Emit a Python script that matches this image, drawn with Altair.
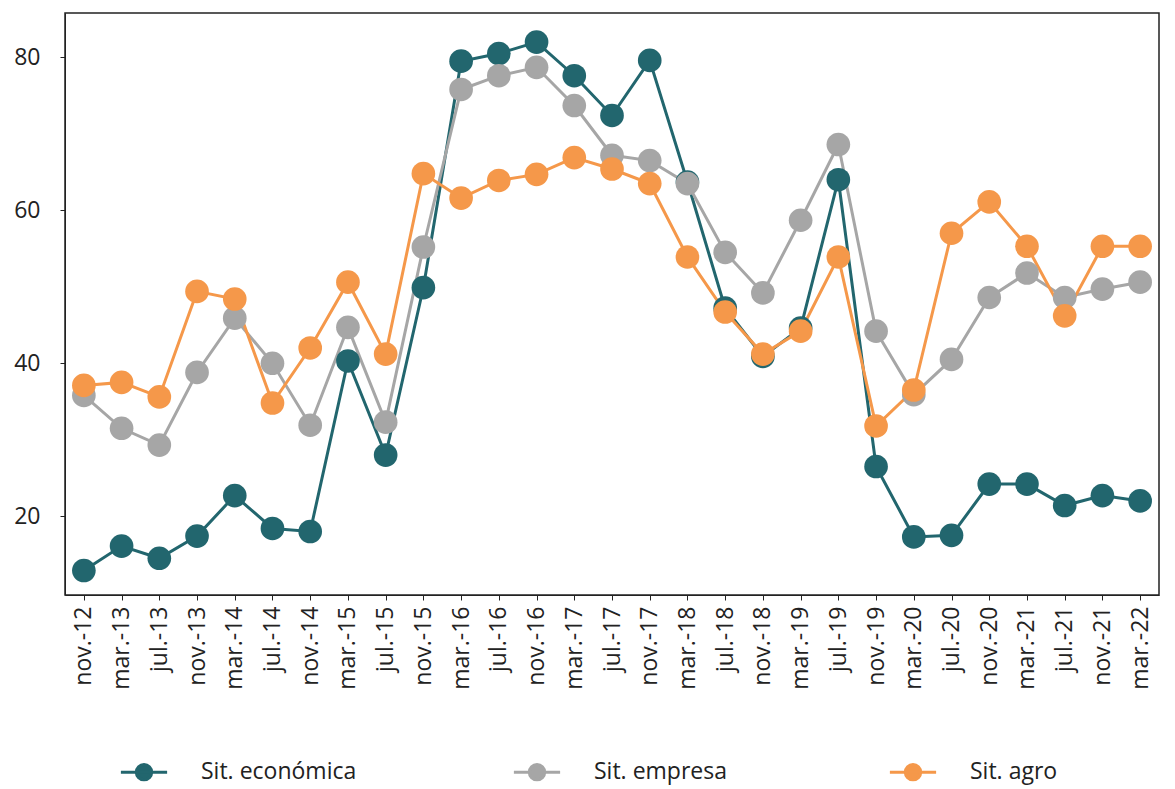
import altair as alt
import pandas as pd

periods = ["nov.-12", "mar.-13", "jul.-13", "nov.-13", "mar.-14", "jul.-14", "nov.-14",
           "mar.-15", "jul.-15", "nov.-15", "mar.-16", "jul.-16", "nov.-16", "mar.-17",
           "jul.-17", "nov.-17", "mar.-18", "jul.-18", "nov.-18", "mar.-19", "jul.-19",
           "nov.-19", "mar.-20", "jul.-20", "nov.-20", "mar.-21", "jul.-21", "nov.-21",
           "mar.-22"]

sit_economica = [12.9, 16.1, 14.5, 17.4, 22.7, 18.4, 18.0, 40.3, 28.0, 49.9, 79.5, 80.5,
                 82.0, 77.6, 72.4, 79.6, 63.7, 47.2, 40.9, 44.6, 64.0, 26.5, 17.3, 17.5,
                 24.2, 24.2, 21.4, 22.7, 22.0]
sit_empresa = [35.8, 31.5, 29.3, 38.8, 45.9, 40.0, 31.9, 44.7, 32.3, 55.2, 75.8, 77.6,
               78.7, 73.7, 67.2, 66.5, 63.5, 54.5, 49.2, 58.7, 68.6, 44.2, 35.9, 40.5,
               48.6, 51.8, 48.6, 49.7, 50.6]
sit_agro = [37.1, 37.5, 35.6, 49.4, 48.4, 34.8, 42.0, 50.6, 41.2, 64.8, 61.6, 63.9,
            64.7, 66.9, 65.4, 63.5, 53.9, 46.7, 41.2, 44.2, 53.9, 31.8, 36.5, 57.0,
            61.1, 55.3, 46.2, 55.3, 55.3]

series = ["Sit. económica", "Sit.  empresa", "Sit. agro"]
colors = ["#22666e", "#a6a6a6", "#f5984a"]

rows = []
for k, (name, vals) in enumerate(zip(series, [sit_economica, sit_empresa, sit_agro])):
    for p, v in zip(periods, vals):
        rows.append({"periodo": p, "valor": v, "serie": name, "orden": k})
source = pd.DataFrame(rows)

font = "Open Sans"
# line with a dot in the middle, like the matplotlib legend handle
legend_symbol = "M-1.5,0L1.5,0M-0.5,0A0.5,0.5 0 1,0 0.5,0A0.5,0.5 0 1,0 -0.5,0Z"

chart = alt.Chart(source).mark_line(
    strokeWidth=3,
    point=alt.OverlayMarkDef(size=560, filled=True, opacity=1),
).encode(
    x=alt.X("periodo:N", sort=periods, title=None,
            scale=alt.Scale(paddingOuter=0.3),
            axis=alt.Axis(labelAngle=-90, labelFontSize=23, labelColor="#222",
                          labelFont=font, tickColor="#222", domainColor="#222",
                          labelPadding=6, grid=False)),
    y=alt.Y("valor:Q", title=None,
            scale=alt.Scale(domain=[9.7, 85.8], nice=False, zero=False),
            axis=alt.Axis(values=[20, 40, 60, 80], labelFontSize=23, labelColor="#222",
                          labelFont=font, tickColor="#222", domainColor="#222",
                          labelPadding=20, grid=False)),
    color=alt.Color("serie:N", sort=series, title=None,
                    scale=alt.Scale(domain=series, range=colors),
                    legend=alt.Legend(orient="none", legendX=62, legendY=742,
                                      direction="horizontal",
                                      symbolType=legend_symbol, symbolSize=950,
                                      symbolStrokeWidth=3, symbolOpacity=1,
                                      labelFontSize=23, labelFont=font, labelColor="#222",
                                      labelOffset=40, columnPadding=150)),
    order="orden:Q",
).properties(
    width=1094,
    height=582,
).configure_view(
    stroke="#222",
    strokeWidth=1.5,
)

chart.save("out.html", embed_options={"renderer": "svg", "actions": False})
